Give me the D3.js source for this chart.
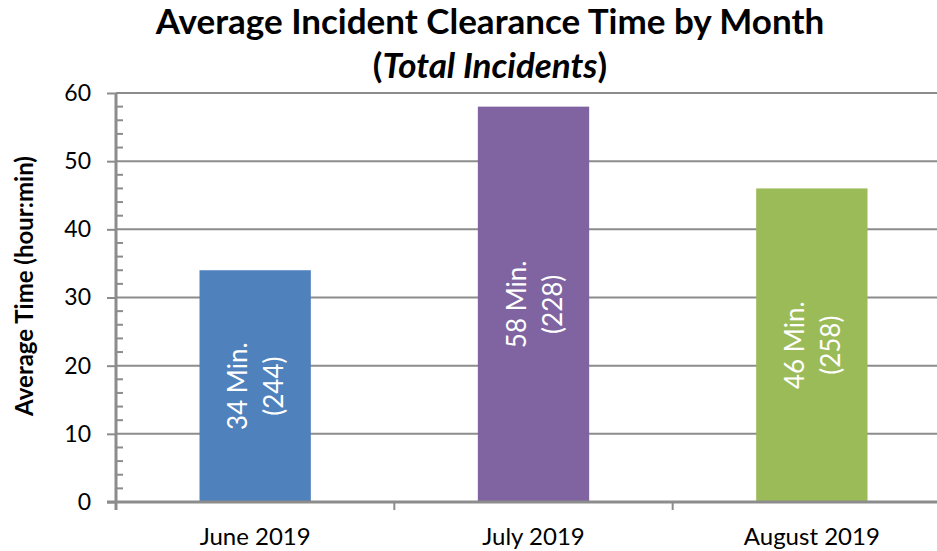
<!DOCTYPE html>
<html><head><meta charset="utf-8">
<script src="https://cdn.jsdelivr.net/npm/d3@7"></script>
<style>body{margin:0;background:#fff;} svg{display:block;font-family:Lato,"Open Sans",sans-serif;}</style>
</head><body>
<svg id="chart" width="937" height="551"></svg>
<script>
const categories = ["June 2019", "July 2019", "August 2019"];
const avgMinutes = [34, 58, 46];
const incidents = [244, 228, 258];
const colors = ["#4f81bd", "#8064a2", "#9bbb59"];
const yTicks = [0, 10, 20, 30, 40, 50, 60];

const svg = d3.select("#chart");
const pLeft = 116, pRight = 951, pTop = 93, pBottom = 502;

const xb = d3.scaleBand().domain(categories).range([pLeft, pRight]);
const y = d3.scaleLinear().domain([0, 60]).range([pBottom, pTop]);

// gridlines
svg.append("g").selectAll("line").data(yTicks.filter(d => d > 0)).join("line")
  .attr("x1", pLeft).attr("x2", pRight).attr("y1", d => y(d)).attr("y2", d => y(d))
  .attr("stroke", "#8c8c8c").attr("stroke-width", 2);

// bars
svg.append("g").selectAll("rect").data(categories).join("rect")
  .attr("x", d => xb(d) + xb.bandwidth() * 0.3)
  .attr("width", xb.bandwidth() * 0.4)
  .attr("y", (d, i) => y(avgMinutes[i]))
  .attr("height", (d, i) => pBottom - y(avgMinutes[i]))
  .attr("fill", (d, i) => colors[i]);

// bar labels (rotated, two lines)
const lab = svg.append("g").selectAll("g").data(categories).join("g")
  .attr("transform", (d, i) => `translate(${xb(d) + xb.bandwidth() / 2},${(y(avgMinutes[i]) + pBottom) / 2}) rotate(-90)`);
lab.append("text").attr("x", 0).attr("y", -8).attr("text-anchor", "middle").attr("fill", "#fff")
  .attr("font-size", 26).text((d, i) => avgMinutes[i] + " Min.");
lab.append("text").attr("x", 0).attr("y", 28).attr("text-anchor", "middle").attr("fill", "#fff")
  .attr("font-size", 26).text((d, i) => "(" + incidents[i] + ")");

// y axis
const yAxis = d3.axisLeft(y).tickValues(yTicks).tickSize(9).tickPadding(16);
const gy = svg.append("g").attr("transform", `translate(${pLeft},0)`).call(yAxis);
gy.select(".domain").remove();
gy.selectAll(".tick line").attr("stroke", "#8c8c8c").attr("stroke-width", 2);
gy.selectAll(".tick text").attr("font-size", 23).attr("fill", "#000").attr("font-family", "Lato, sans-serif");
// minor ticks
const minor = d3.range(0, 61, 2).filter(d => d % 10 !== 0);
svg.append("g").selectAll("line").data(minor).join("line")
  .attr("x1", pLeft).attr("x2", pLeft + 7).attr("y1", d => y(d)).attr("y2", d => y(d))
  .attr("stroke", "#8c8c8c").attr("stroke-width", 2);
svg.append("line").attr("x1", pLeft).attr("x2", pLeft).attr("y1", pTop).attr("y2", pBottom + 8)
  .attr("stroke", "#8c8c8c").attr("stroke-width", 3);

// x axis
svg.append("line").attr("x1", pLeft - 9).attr("x2", pRight).attr("y1", pBottom).attr("y2", pBottom)
  .attr("stroke", "#8c8c8c").attr("stroke-width", 3);
const bounds = categories.map(c => xb(c)).concat([pRight]);
svg.append("g").selectAll("line").data(bounds).join("line")
  .attr("x1", d => d).attr("x2", d => d).attr("y1", pBottom).attr("y2", pBottom + 8)
  .attr("stroke", "#8c8c8c").attr("stroke-width", 2);
svg.append("g").selectAll("text").data(categories).join("text")
  .attr("x", d => xb(d) + xb.bandwidth() / 2).attr("y", 545)
  .attr("text-anchor", "middle").attr("font-size", 24).attr("fill", "#000").text(d => d);

// y axis title
svg.append("text").attr("transform", "translate(33,286) rotate(-90)")
  .attr("text-anchor", "middle").attr("font-size", 24).attr("font-weight", "bold").text("Average Time (hour:min)");

// title
svg.append("text").attr("x", 490).attr("y", 34).attr("text-anchor", "middle")
  .attr("font-size", 35).attr("font-weight", "bold").text("Average Incident Clearance Time by Month");
const t2 = svg.append("text").attr("x", 490).attr("y", 78).attr("text-anchor", "middle")
  .attr("font-size", 35).attr("font-weight", "bold");
t2.append("tspan").text("(");
t2.append("tspan").attr("font-style", "italic").text("Total Incidents");
t2.append("tspan").text(")");
</script>
</body></html>
